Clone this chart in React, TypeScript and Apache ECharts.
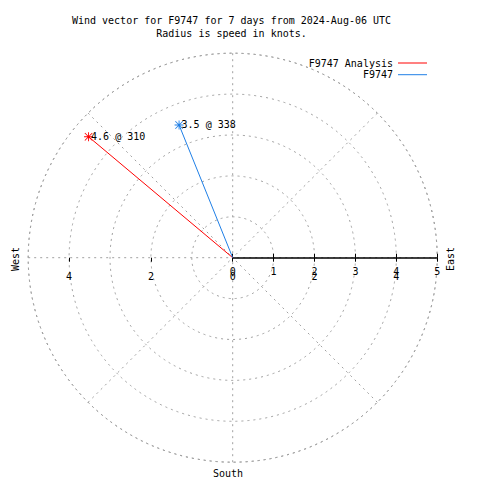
import React, { useEffect, useRef } from "react";
import * as echarts from "echarts";

const TITLE_LINES = [
  "Wind vector for F9747 for 7 days from 2024-Aug-06 UTC",
  "Radius is speed in knots.",
];
const SERIES_NAMES = ["F9747 Analysis", "F9747"];
const SPEEDS_KT = [4.6, 3.5];
const DIRECTIONS_DEG = [310, 338];
const SERIES_COLORS = ["#ff0000", "#1f7fe6"];
const RADIUS_TICKS = [0, 1, 2, 3, 4, 5];
const X_TICK_LABELS = [-4, -2, 0, 2, 4];
const X_TICK_MARKS = [-4, -2, 0, 1, 2, 3, 4, 5];
const COMPASS_LABELS = ["West", "East", "South"];

const MONO = '"DejaVu Sans Mono", "Liberation Mono", monospace';
const GRID_GRAY = "#a0a0a0";
const STAR =
  "path://M4.5,0h1v10h-1z M0,4.5h10v1h-10z M1.2,0.5L9.5,8.8L8.8,9.5L0.5,1.2z M8.8,0.5L9.5,1.2L1.2,9.5L0.5,8.8z";

// compass bearing (clockwise from north) -> angle axis value (clockwise from east)
const toAngle = (b: number) => (((b - 90) % 360) + 360) % 360;

const CX = 232.7;
const CY = 257.7;
const R = 204.5;

export default function App() {
  const ref = useRef<HTMLDivElement>(null);
  useEffect(() => {
    if (!ref.current) return;
    const chart = echarts.init(ref.current, null, { renderer: "svg" });
    const dashed = { color: GRID_GRAY, type: [2, 4] as any, width: 1 };
    chart.setOption({
      animation: false,
      backgroundColor: "#ffffff",
      title: {
        text: TITLE_LINES.join("\n"),
        left: 231.5,
        top: 14.4,
        textAlign: "center",
        padding: 0,
        textStyle: {
          fontFamily: MONO,
          fontSize: 10,
          fontWeight: "normal",
          color: "#000",
          lineHeight: 12.6,
        },
      },
      legend: SERIES_NAMES.map((name, i) => ({
        data: [name],
        orient: "vertical",
        right: 53,
        top: 58 + i * 11.7,
        padding: 0,
        align: "right",
        icon: "rect",
        itemWidth: 29,
        itemHeight: 1,
        itemGap: 0,
        selectedMode: false,
        textStyle: { fontFamily: MONO, fontSize: 10, color: "#000" },
      })),
      polar: { center: [CX, CY], radius: R },
      angleAxis: {
        type: "value",
        min: 0,
        max: 360,
        interval: 45,
        startAngle: 0,
        clockwise: true,
        axisLine: { show: true, lineStyle: dashed },
        axisTick: { show: false },
        axisLabel: { show: false },
        splitLine: { show: true, lineStyle: dashed },
      },
      radiusAxis: {
        type: "value",
        min: RADIUS_TICKS[0],
        max: RADIUS_TICKS[RADIUS_TICKS.length - 1],
        interval: 1,
        axisLine: { show: true, lineStyle: { color: "#000", width: 1.5 } },
        axisTick: { show: true, length: 4, lineStyle: { color: "#000", width: 1 } },
        axisLabel: {
          show: true,
          margin: -9,
          verticalAlign: "top",
          showMinLabel: true,
          showMaxLabel: true,
          fontFamily: MONO,
          fontSize: 10,
          color: "#000",
        },
        splitLine: { show: true, lineStyle: dashed },
      },
      grid: {
        left: CX - R,
        width: 2 * R,
        top: CY - R,
        height: R,
        containLabel: false,
        outerBoundsMode: "none",
      },
      xAxis: {
        type: "value",
        min: -5,
        max: 5,
        position: "bottom",
        axisLine: { show: false },
        splitLine: { show: false },
        axisTick: {
          show: true,
          length: 4,
          customValues: X_TICK_MARKS,
          lineStyle: { color: "#000", width: 1 },
        },
        axisLabel: {
          show: true,
          customValues: X_TICK_LABELS,
          margin: 14,
          formatter: (v: number) => String(Math.abs(v)),
          fontFamily: MONO,
          fontSize: 10,
          color: "#000",
        },
      },
      yAxis: { type: "value", min: 0, max: 1, show: false },
      graphic: [
        { type: "text", x: 15, y: 259, rotation: Math.PI / 2, style: { text: COMPASS_LABELS[0], font: `10px ${MONO}`, fill: "#000", align: "center", verticalAlign: "middle" } },
        { type: "text", x: 450.5, y: 259, rotation: Math.PI / 2, style: { text: COMPASS_LABELS[1], font: `10px ${MONO}`, fill: "#000", align: "center", verticalAlign: "middle" } },
        { type: "text", x: 228, y: 473, style: { text: COMPASS_LABELS[2], font: `10px ${MONO}`, fill: "#000", align: "center", verticalAlign: "middle" } },
      ],
      series: SERIES_NAMES.map((name, i) => ({
        type: "line",
        name,
        coordinateSystem: "polar",
        polarIndex: 0,
        color: SERIES_COLORS[i],
        lineStyle: { color: SERIES_COLORS[i], width: 1 },
        itemStyle: { color: SERIES_COLORS[i] },
        symbol: STAR,
        symbolSize: 9,
        showSymbol: true,
        z: 5,
        data: [
          { value: [0, toAngle(DIRECTIONS_DEG[i])], symbol: "none" },
          {
            value: [SPEEDS_KT[i], toAngle(DIRECTIONS_DEG[i])],
            label: {
              show: true,
              position: "right",
              distance: -2,
              formatter: `${SPEEDS_KT[i]} @ ${DIRECTIONS_DEG[i]}`,
              fontFamily: MONO,
              fontSize: 10,
              color: "#000",
            },
          },
        ],
      })),
    });
    return () => chart.dispose();
  }, []);
  return (
    <div
      ref={ref}
      style={{ position: "fixed", left: 0, top: 0, width: 480, height: 480, background: "#fff" }}
    />
  );
}
